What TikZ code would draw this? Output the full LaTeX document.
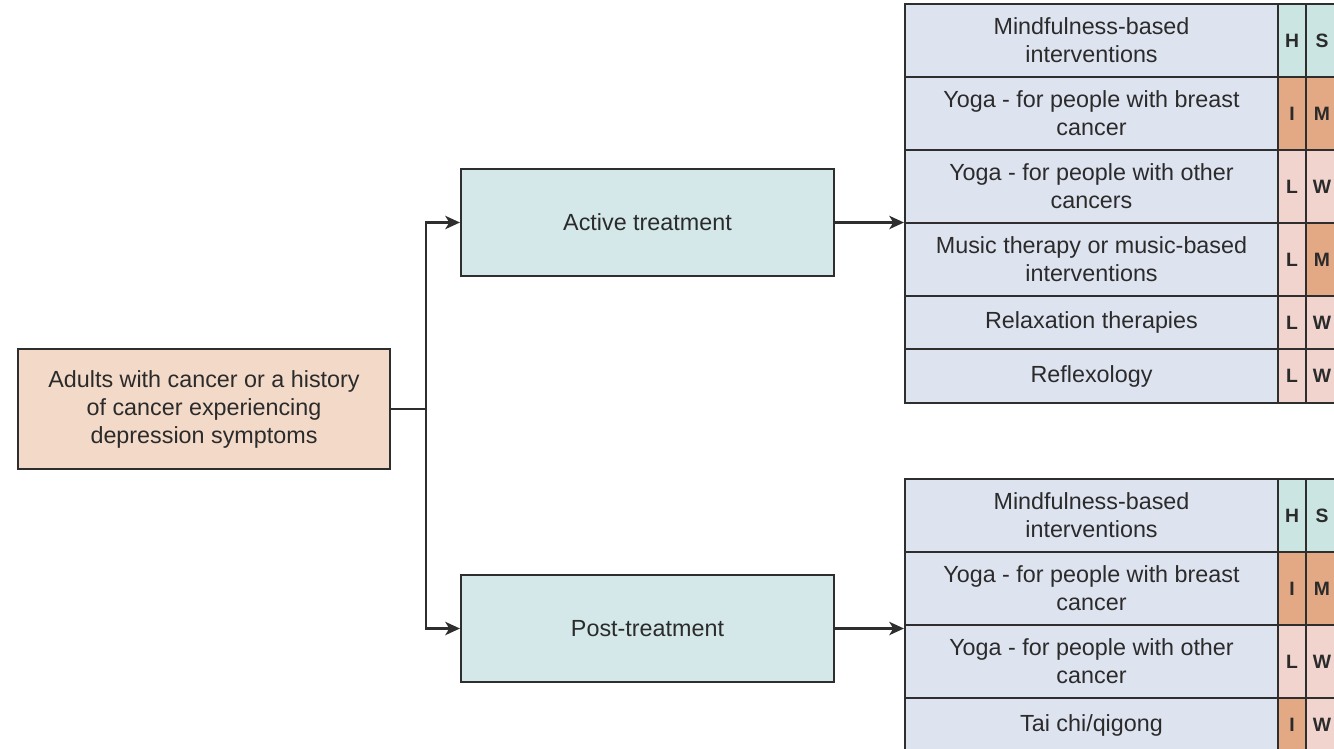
\documentclass[tikz,border=0pt]{standalone}
\usepackage{fontspec}
\setmainfont{Liberation Sans}
\usetikzlibrary{arrows.meta}

\definecolor{edge}{HTML}{2E2E2E}
\definecolor{ink}{HTML}{2B2B2B}
\definecolor{peach}{HTML}{F3D9C8}
\definecolor{teal}{HTML}{D4E8E9}
\definecolor{lavender}{HTML}{DEE3F0}
\definecolor{hdr}{HTML}{CBE5E2}
\definecolor{ormid}{HTML}{E3A985}
\definecolor{pinklo}{HTML}{F0D4CD}

\newcommand\bodysize{\fontsize{17.5}{21}\selectfont}
\newcommand\tagsize{\fontsize{14.5}{16}\selectfont\bfseries}

% table cell: name, left, top, right, bottom, style, text (pixel grid)
\newcommand\tcell[7]{%
  \node[#6, minimum width={(#4-#2)*0.75pt}, minimum height={(#5-#3)*0.75pt}]
    (#1) at ({(#2+#4)/2},{(#3+#5)/2}) {#7};}

\tikzset{
  box/.style={draw=edge, line width=1.6pt, inner sep=0pt, align=center,
              text=ink, font=\bodysize},
  txt/.style={box, fill=lavender},
  tagH/.style={box, font=\tagsize, fill=hdr},
  tagI/.style={box, font=\tagsize, fill=ormid},
  tagL/.style={box, font=\tagsize, fill=pinklo},
  arr/.style={draw=edge, line width=1.6pt, -{Stealth[length=11pt,width=10pt,inset=3pt]}},
  wire/.style={draw=edge, line width=1.6pt},
}

\begin{document}
\begin{tikzpicture}[x=0.75pt, y=-0.75pt]
\useasboundingbox (0,0) rectangle (1334,749);

% population and the two treatment phases
\tcell{src}{18}{349}{390}{469}{box, fill=peach}{Adults with cancer or a history\\of cancer experiencing\\depression symptoms}
\tcell{active}{461}{169}{834}{276}{box, fill=teal}{Active treatment}
\tcell{post}{461}{575}{834}{682}{box, fill=teal}{Post-treatment}

% interventions during active treatment
\tcell{a1}{905}{4}{1278}{77}{txt}{Mindfulness-based\\interventions}
\tcell{a2}{905}{77}{1278}{150}{txt}{Yoga - for people with breast\\cancer}
\tcell{a3}{905}{150}{1278}{223}{txt}{Yoga - for people with other\\cancers}
\tcell{a4}{905}{223}{1278}{296}{txt}{Music therapy or music-based\\interventions}
\tcell{a5}{905}{296}{1278}{349}{txt}{Relaxation therapies}
\tcell{a6}{905}{349}{1278}{403}{txt}{Reflexology}

\tcell{a1h}{1278}{4}{1306}{77}{tagH}{H}
\tcell{a1s}{1306}{4}{1338}{77}{tagH}{S}
\tcell{a2h}{1278}{77}{1306}{150}{tagI}{I}
\tcell{a2s}{1306}{77}{1338}{150}{tagI}{M}
\tcell{a3h}{1278}{150}{1306}{223}{tagL}{L}
\tcell{a3s}{1306}{150}{1338}{223}{tagL}{W}
\tcell{a4h}{1278}{223}{1306}{296}{tagL}{L}
\tcell{a4s}{1306}{223}{1338}{296}{tagI}{M}
\tcell{a5h}{1278}{296}{1306}{349}{tagL}{L}
\tcell{a5s}{1306}{296}{1338}{349}{tagL}{W}
\tcell{a6h}{1278}{349}{1306}{403}{tagL}{L}
\tcell{a6s}{1306}{349}{1338}{403}{tagL}{W}

% interventions after treatment
\tcell{p1}{905}{479}{1278}{552}{txt}{Mindfulness-based\\interventions}
\tcell{p2}{905}{552}{1278}{625}{txt}{Yoga - for people with breast\\cancer}
\tcell{p3}{905}{625}{1278}{698}{txt}{Yoga - for people with other\\cancer}
\tcell{p4}{905}{698}{1278}{752}{txt}{Tai chi/qigong}

\tcell{p1h}{1278}{479}{1306}{552}{tagH}{H}
\tcell{p1s}{1306}{479}{1338}{552}{tagH}{S}
\tcell{p2h}{1278}{552}{1306}{625}{tagI}{I}
\tcell{p2s}{1306}{552}{1338}{625}{tagI}{M}
\tcell{p3h}{1278}{625}{1306}{698}{tagL}{L}
\tcell{p3s}{1306}{625}{1338}{698}{tagL}{W}
\tcell{p4h}{1278}{698}{1306}{752}{tagI}{I}
\tcell{p4s}{1306}{698}{1338}{752}{tagL}{W}

% connectors
\coordinate (split) at (426,409);
\draw[wire] (src.east) -- (split);
\draw[arr] (split) |- (active.west);
\draw[arr] (split) |- (post.west);
\draw[arr] (active.east) -- (active.east -| a1.west);
\draw[arr] (post.east) -- (post.east -| p1.west);
\end{tikzpicture}
\end{document}
